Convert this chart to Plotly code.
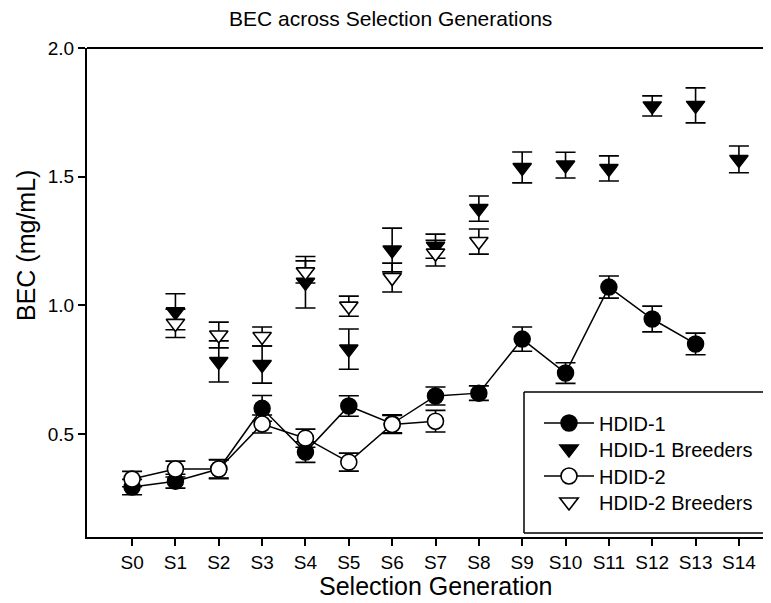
import plotly.graph_objects as go

generations = ["S0", "S1", "S2", "S3", "S4", "S5", "S6", "S7", "S8", "S9",
               "S10", "S11", "S12", "S13", "S14"]

# HDID-1 (S0-S13)
hdid1 = [0.294, 0.317, 0.364, 0.600, 0.430, 0.609, 0.540, 0.648, 0.659, 0.869,
         0.737, 1.071, 0.947, 0.850]
hdid1_se = [0.030, 0.027, 0.035, 0.050, 0.040, 0.040, 0.035, 0.035, 0.028, 0.047,
            0.040, 0.043, 0.050, 0.042]

# HDID-1 Breeders (S1-S14)
hdid1_br = [0.975, 0.782, 0.770, 1.090, 0.830, 1.215, 1.230, 1.376, 1.536, 1.545,
            1.532, 1.775, 1.777, 1.567]
hdid1_br_se = [0.070, 0.080, 0.072, 0.100, 0.078, 0.085, 0.047, 0.049, 0.060, 0.050,
               0.049, 0.039, 0.068, 0.052]

# HDID-2 (S0-S7)
hdid2 = [0.325, 0.364, 0.364, 0.539, 0.484, 0.391, 0.537, 0.550]
hdid2_se = [0.030, 0.031, 0.037, 0.035, 0.035, 0.035, 0.035, 0.042]

# HDID-2 Breeders (S1-S8)
hdid2_br = [0.930, 0.885, 0.879, 1.130, 0.997, 1.108, 1.203, 1.248]
hdid2_br_se = [0.055, 0.050, 0.037, 0.043, 0.039, 0.056, 0.050, 0.049]

FONT = "Arial, Liberation Sans, sans-serif"
idx = list(range(len(generations)))

# layout geometry (pixels); the page adds an 8px body margin
OFF = 8
W, H = 771 - OFF, 603 - OFF
L, R, T = 87 - OFF, 0, 48 - OFF
B = H - (537 - OFF)
PW, PH = W - L - R, H - T - B


def px(xp):
    return (xp - OFF - L) / PW


def py(yp):
    return (H - B - (yp - OFF)) / PH


def err(se):
    return dict(type="data", array=se, visible=True, color="black",
                thickness=1.6, width=10)


fig = go.Figure()
fig.add_trace(go.Scatter(
    x=idx[0:len(hdid1)], y=hdid1, name="HDID-1", mode="lines+markers",
    line=dict(color="black", width=1.5), legend="legend",
    marker=dict(symbol="circle", size=16, color="black",
                line=dict(color="black", width=1.5)),
    error_y=err(hdid1_se)))
fig.add_trace(go.Scatter(
    x=idx[1:1 + len(hdid1_br)], y=hdid1_br, name="HDID-1 Breeders", mode="markers",
    legend="legend2",
    marker=dict(symbol="triangle-down", size=16, color="black",
                line=dict(color="black", width=1.5)),
    error_y=err(hdid1_br_se)))
fig.add_trace(go.Scatter(
    x=idx[0:len(hdid2)], y=hdid2, name="HDID-2", mode="lines+markers",
    line=dict(color="black", width=1.5), legend="legend3",
    marker=dict(symbol="circle", size=16, color="white",
                line=dict(color="black", width=1.6)),
    error_y=err(hdid2_se)))
fig.add_trace(go.Scatter(
    x=idx[1:1 + len(hdid2_br)], y=hdid2_br, name="HDID-2 Breeders", mode="markers",
    legend="legend4",
    marker=dict(symbol="triangle-down", size=16, color="white",
                line=dict(color="black", width=1.6)),
    error_y=err(hdid2_br_se)))


def leg(ypix):
    return dict(x=px(539), y=py(ypix), xanchor="left", yanchor="middle",
                bgcolor="rgba(0,0,0,0)", borderwidth=0,
                font=dict(size=20, family=FONT, color="black"), itemwidth=50)


box_line = dict(color="black", width=1.5)
bx0, bx1, by0, by1 = px(524), 1.0, py(533), py(392)

fig.update_layout(
    width=W, height=H,
    margin=dict(l=L, r=R, t=T, b=B),
    paper_bgcolor="white", plot_bgcolor="white",
    font=dict(family=FONT, color="black", size=19),
    showlegend=True,
    legend=leg(423), legend2=leg(449), legend3=leg(476), legend4=leg(502),
    xaxis=dict(range=[-1.04, 14.74], tickvals=idx, ticktext=generations,
               showgrid=False, zeroline=False, showline=True, automargin=False,
               linecolor="black", linewidth=2, ticks="outside", ticklen=7,
               tickwidth=1.5, tickcolor="black",
               tickfont=dict(size=19, family=FONT)),
    yaxis=dict(range=[0.1, 2.0], tickvals=[0.5, 1.0, 1.5, 2.0],
               tickformat=".1f", showgrid=False, zeroline=False, automargin=False,
               showline=True, linecolor="black", linewidth=2,
               ticks="outside", ticklen=7, tickwidth=1.5, tickcolor="black",
               tickfont=dict(size=19, family=FONT)),
    shapes=[
        dict(type="line", xref="paper", yref="paper", x0=0, x1=1.0,
             y0=1, y1=1, line=dict(color="black", width=2)),
        # legend frame (its right side lies beyond the visible area)
        dict(type="rect", xref="paper", yref="paper", x0=bx0, x1=bx1,
             y0=by0, y1=by1, layer="above", fillcolor="white",
             line=dict(width=0)),
        dict(type="line", xref="paper", yref="paper", x0=bx0, x1=bx0,
             y0=by0, y1=by1, layer="above", line=box_line),
        dict(type="line", xref="paper", yref="paper", x0=bx0, x1=bx1,
             y0=by1, y1=by1, layer="above", line=box_line),
        dict(type="line", xref="paper", yref="paper", x0=bx0, x1=bx1,
             y0=by0, y1=by0, layer="above", line=box_line),
    ],
    annotations=[
        dict(text="BEC across Selection Generations", xref="paper", yref="paper",
             x=px(390), y=py(19), xanchor="center",
             yanchor="middle", showarrow=False, font=dict(size=21, family=FONT)),
        dict(text="Selection Generation", xref="paper", yref="paper",
             x=px(436), y=py(586), xanchor="center",
             yanchor="middle", showarrow=False, font=dict(size=25, family=FONT)),
        dict(text="BEC (mg/mL)", xref="paper", yref="paper",
             x=px(26), y=py(246), xanchor="center",
             yanchor="middle", textangle=-90, showarrow=False,
             font=dict(size=25, family=FONT)),
    ],
)

fig.write_html("out.html")
